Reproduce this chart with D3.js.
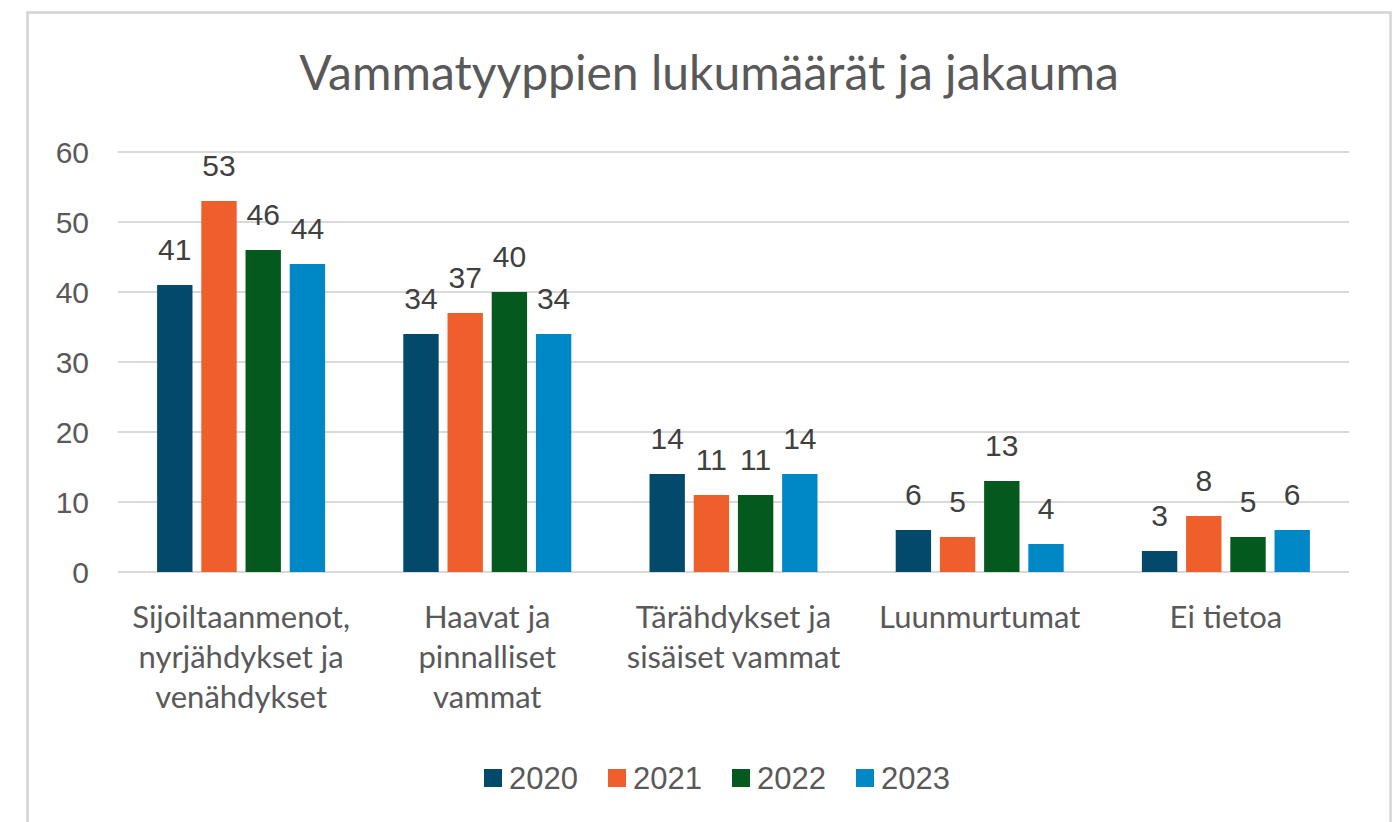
<!DOCTYPE html>
<html>
<head>
<meta charset="utf-8">
<script src="https://cdn.jsdelivr.net/npm/d3@7"></script>
<style>
  body { margin: 0; background: #fff; }
</style>
</head>
<body>
<script>
var width = 1397;
var height = 822;

// data
var categories = [
    "Sijoiltaanmenot, nyrjähdykset ja venähdykset",
    "Haavat ja pinnalliset vammat",
    "Tärähdykset ja sisäiset vammat",
    "Luunmurtumat",
    "Ei tietoa"
];
var categoryLines = [
    ["Sijoiltaanmenot,", "nyrjähdykset ja", "venähdykset"],
    ["Haavat ja", "pinnalliset", "vammat"],
    ["Tärähdykset ja", "sisäiset vammat"],
    ["Luunmurtumat"],
    ["Ei tietoa"]
];
var years = ["2020", "2021", "2022", "2023"];
var v2020 = [41, 34, 14, 6, 3];
var v2021 = [53, 37, 11, 5, 8];
var v2022 = [46, 40, 11, 13, 5];
var v2023 = [44, 34, 14, 4, 6];
var yTicks = [0, 10, 20, 30, 40, 50, 60];
var colors = ["#02496c", "#ee5f2b", "#04591f", "#0088c6"];

var series = [v2020, v2021, v2022, v2023];

var svg = d3.select("body").append("svg")
    .attr("width", width)
    .attr("height", height);

// chart border
svg.append("rect")
    .attr("x", 27.5).attr("y", 12.5)
    .attr("width", 1363).attr("height", 830)
    .attr("fill", "#fff")
    .attr("stroke", "#d4d4d4")
    .attr("stroke-width", 2.5);

svg.append("text")
    .attr("x", 709)
    .attr("y", 90)
    .attr("text-anchor", "middle")
    .attr("font-family", "Lato, 'Open Sans', sans-serif")
    .attr("font-size", 48)
    .attr("fill", "#595959")
    .text("Vammatyyppien lukumäärät ja jakauma");

var plotLeft = 118, plotRight = 1349, plotTop = 152, plotBottom = 572;

var x0 = d3.scaleBand().domain(categories).range([plotLeft, plotRight]);
var x1 = d3.scaleBand().domain(years).range([0, 168]).paddingInner(0.2);
var y = d3.scaleLinear().domain([0, 60]).range([plotBottom, plotTop]);

// gridlines
svg.append("g").selectAll("line")
    .data(yTicks)
    .enter().append("line")
    .attr("x1", plotLeft).attr("x2", plotRight)
    .attr("y1", function (d) { return y(d); })
    .attr("y2", function (d) { return y(d); })
    .attr("stroke", "#d9d9d9")
    .attr("stroke-width", 2);

// y tick labels
svg.append("g").selectAll("text")
    .data(yTicks)
    .enter().append("text")
    .attr("x", 89)
    .attr("y", function (d) { return y(d) + 11; })
    .attr("text-anchor", "end")
    .attr("font-family", "'Liberation Sans', Arial, sans-serif")
    .attr("font-size", 30)
    .attr("fill", "#595959")
    .text(function (d) { return d; });

var groupOffset = (x0.bandwidth() - 168) / 2;

years.forEach(function (yr, si) {
    var g = svg.append("g");
    var vals = series[si];
    g.selectAll("rect")
        .data(vals)
        .enter().append("rect")
        .attr("x", function (d, i) { return x0(categories[i]) + groupOffset + x1(yr); })
        .attr("y", function (d) { return y(d); })
        .attr("width", x1.bandwidth())
        .attr("height", function (d) { return plotBottom - y(d); })
        .attr("fill", colors[si]);
    g.selectAll("text")
        .data(vals)
        .enter().append("text")
        .attr("x", function (d, i) { return x0(categories[i]) + groupOffset + x1(yr) + x1.bandwidth() / 2; })
        .attr("y", function (d) { return y(d) - 25; })
        .attr("text-anchor", "middle")
        .attr("font-family", "'Liberation Sans', Arial, sans-serif")
        .attr("font-size", 30)
        .attr("fill", "#404040")
        .text(function (d) { return d; });
});

// category labels
categories.forEach(function (c, i) {
    var t = svg.append("text")
        .attr("text-anchor", "middle")
        .attr("font-family", "Lato, 'Open Sans', sans-serif")
        .attr("font-size", 31)
        .attr("fill", "#595959");
    categoryLines[i].forEach(function (line, j) {
        t.append("tspan")
            .attr("x", x0(c) + x0.bandwidth() / 2)
            .attr("y", 628 + j * 40)
            .text(line);
    });
});

// legend
var legend = svg.append("g");
years.forEach(function (yr, i) {
    var lx = 484 + i * 124;
    legend.append("rect")
        .attr("x", lx).attr("y", 769)
        .attr("width", 18).attr("height", 18)
        .attr("fill", colors[i]);
    legend.append("text")
        .attr("x", lx + 25)
        .attr("y", 789)
        .attr("font-family", "'Liberation Sans', Arial, sans-serif")
        .attr("font-size", 31)
        .attr("fill", "#595959")
        .text(yr);
});
</script>
</body>
</html>
